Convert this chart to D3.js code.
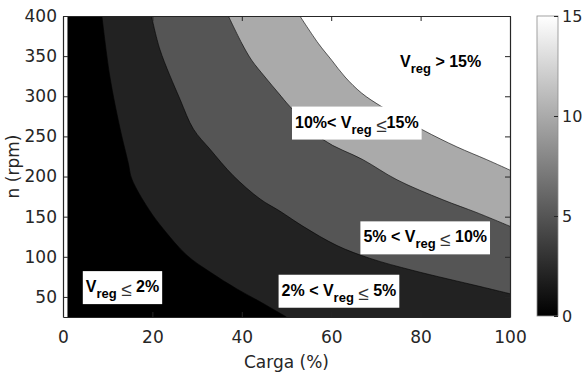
<!DOCTYPE html>
<html>
<head>
<meta charset="utf-8">
<script src="https://cdn.jsdelivr.net/npm/d3@7"></script>
<style>
body { margin: 0; background: #fff; }
</style>
</head>
<body>
<div id="chart"></div>
<script>
// contour levels (Vreg %) and the boundary of each one as [carga, n]
var levels = [2, 5, 10, 15];
var level2Line = [[8.7,400],[10.5,324],[12.8,259],[14.6,217],[15.4,197],[19.1,160],[22.4,135],[27.7,102],[32.9,81],[38.9,60],[44.1,44],[50.0,25]];
var level5Line = [[19.8,400],[21.7,358],[26.2,296],[29.2,259],[32.9,234],[38.1,201],[44.1,172],[48.5,157],[53.7,138],[61.3,114],[68.7,98],[78.3,83],[93.3,63],[100,54]];
var level10Line = [[37.0,400],[40.0,366],[42.2,345],[45.2,324],[48.2,304],[50.8,287],[58.2,246],[67.1,221],[74.7,196],[85.0,171],[92.6,155],[100,138]];
var level15Line = [[53.0,400],[57.1,366],[60.1,345],[63.1,324],[66.8,304],[71.3,287],[80.5,258],[88.1,237],[94.8,221],[100,208]];
var boundaries = [level2Line, level5Line, level10Line, level15Line];

var cargaRange = [1, 100];
var nRange = [25, 400];
var xTicks = [0, 20, 40, 60, 80, 100];
var yTicks = [50, 100, 150, 200, 250, 300, 350, 400];
var cbTicks = [0, 5, 10, 15];

// zone labels: pieces are [text, kind] with b = bold, s = subscript, r = symbol
var labelText = [
  [["V","b"],["reg","s"],[" ","b"],["\u2264","r"],[" 2%","b"]],
  [["2% < V","b"],["reg","s"],[" ","b"],["\u2264","r"],[" 5%","b"]],
  [["5% < V","b"],["reg","s"],[" ","b"],["\u2264","r"],[" 10%","b"]],
  [["10%< V","b"],["reg","s"],[" ","b"],["\u2264","r"],["15%","b"]],
  [["V","b"],["reg","s"],[" > 15%","b"]]
];
var labelCarga = [5.1, 48.9, 67.2, 51.9, 75.4];
var labelN = [56, 51.5, 118, 261, 337];
var labelBoxed = [true, true, true, true, false];

var width = 582, height = 374;
var margin = {top: 16, right: 72, bottom: 57, left: 63};

var svg = d3.select("#chart").append("svg")
  .attr("width", width).attr("height", height);

var x = d3.scaleLinear().domain([0, 100]).range([margin.left, width - margin.right]);
var y = d3.scaleLinear().domain([25, 400]).range([height - margin.bottom, margin.top]);
var gray = d3.scaleLinear().domain([0, 15]).range(["#000", "#fff"]);

// base (lowest) region
svg.append("rect")
  .attr("x", x(cargaRange[0])).attr("y", y(nRange[1]))
  .attr("width", x(cargaRange[1]) - x(cargaRange[0]))
  .attr("height", y(nRange[0]) - y(nRange[1]))
  .attr("fill", gray(0));

var line = d3.line()
  .x(function (d) { return x(d[0]); })
  .y(function (d) { return y(d[1]); })
  .curve(d3.curveCatmullRom.alpha(0.5));
var edge = d3.line()
  .x(function (d) { return x(d[0]); })
  .y(function (d) { return y(d[1]); });

boundaries.forEach(function (pts, i) {
  var last = pts[pts.length - 1];
  var corner = [[cargaRange[1], nRange[1]]];
  if (last[0] < cargaRange[1]) corner.unshift([cargaRange[1], nRange[0]]);
  // smooth boundary, then straight along the frame back to the start
  var d = line(pts) + edge([last].concat(corner, [pts[0]])).replace("M", "L") + "Z";
  svg.append("path")
    .attr("d", d)
    .attr("fill", gray(levels[i]));
});
boundaries.forEach(function (pts) {
  svg.append("path")
    .attr("d", line(pts))
    .attr("fill", "none")
    .attr("stroke", "#000")
    .attr("stroke-width", 0.6);
});

// axes
var axisColor = "#262626";
function styleAxis(g) {
  g.selectAll("path, line").attr("stroke", axisColor);
  g.selectAll("text").attr("fill", axisColor)
    .attr("font-family", "DejaVu Sans").attr("font-size", 17);
}
var bottomY = y(nRange[0]), topY = y(nRange[1]);
svg.append("g").attr("transform", "translate(0," + bottomY + ")")
  .call(d3.axisBottom(x).tickValues(xTicks).tickSize(-5).tickSizeOuter(0).tickPadding(14))
  .call(styleAxis);
svg.append("g").attr("transform", "translate(0," + topY + ")")
  .call(d3.axisTop(x).tickValues(xTicks).tickSize(-5).tickSizeOuter(0).tickFormat(""))
  .call(styleAxis);
svg.append("g").attr("transform", "translate(" + x(0) + ",0)")
  .call(d3.axisLeft(y).tickValues(yTicks).tickSize(-5).tickSizeOuter(0).tickPadding(6))
  .call(styleAxis);
svg.append("g").attr("transform", "translate(" + x(100) + ",0)")
  .call(d3.axisRight(y).tickValues(yTicks).tickSize(-5).tickSizeOuter(0).tickFormat(""))
  .call(styleAxis);
svg.selectAll(".domain").attr("stroke-width", 1.2);

svg.append("text")
  .attr("x", (x(0) + x(100)) / 2).attr("y", 368)
  .attr("text-anchor", "middle")
  .attr("font-family", "DejaVu Sans").attr("font-size", 17).attr("fill", axisColor)
  .text("Carga (%)");
svg.append("text")
  .attr("transform", "translate(19," + ((topY + bottomY) / 2) + ") rotate(-90)")
  .attr("text-anchor", "middle")
  .attr("font-family", "DejaVu Sans").attr("font-size", 17).attr("fill", axisColor)
  .text("n (rpm)");

// zone labels
labelText.forEach(function (parts, i) {
  var lx = x(labelCarga[i]), ly = y(labelN[i]);
  var g = svg.append("g");
  var box = g.append("rect").attr("fill", "#fff");
  var t = g.append("text").attr("x", lx).attr("y", ly)
    .attr("font-family", "Liberation Sans, Arial, sans-serif").attr("fill", "#000");
  parts.forEach(function (p) {
    var ts = t.append("tspan").text(p[0]).style("white-space", "pre");
    if (p[1] === "b") ts.attr("y", ly).attr("font-weight", "bold").attr("font-size", 16);
    if (p[1] === "s") ts.attr("y", ly + 6).attr("font-weight", "bold").attr("font-size", 13);
    if (p[1] === "r") ts.attr("y", ly + 4).attr("font-size", 19).attr("fill", "#333");
  });
  if (labelBoxed[i]) {
    var bb = t.node().getBBox();
    box.attr("x", bb.x - 3).attr("y", ly - 21)
      .attr("width", bb.width + 6).attr("height", 33);
  } else {
    box.remove();
  }
});

// colorbar
var cbX = 537, cbW = 21;
var cb = d3.scaleLinear().domain([0, 15]).range([316, 16]);
var defs = svg.append("defs");
var grad = defs.append("linearGradient").attr("id", "cbgrad")
  .attr("x1", 0).attr("y1", 1).attr("x2", 0).attr("y2", 0);
grad.append("stop").attr("offset", "0%").attr("stop-color", gray(0));
grad.append("stop").attr("offset", "100%").attr("stop-color", gray(15));
svg.append("rect")
  .attr("x", cbX).attr("y", cb(15))
  .attr("width", cbW).attr("height", cb(0) - cb(15))
  .attr("fill", "url(#cbgrad)")
  .attr("stroke", "#8c8c8c").attr("stroke-width", 0.8);
svg.append("g").attr("transform", "translate(" + (cbX + cbW) + ",0)")
  .call(d3.axisRight(cb).tickValues(cbTicks).tickSize(-4).tickSizeOuter(0).tickPadding(4))
  .call(styleAxis)
  .call(function (g) { g.selectAll("text").attr("font-size", 16); })
  .select(".domain").remove();
</script>
</body>
</html>
